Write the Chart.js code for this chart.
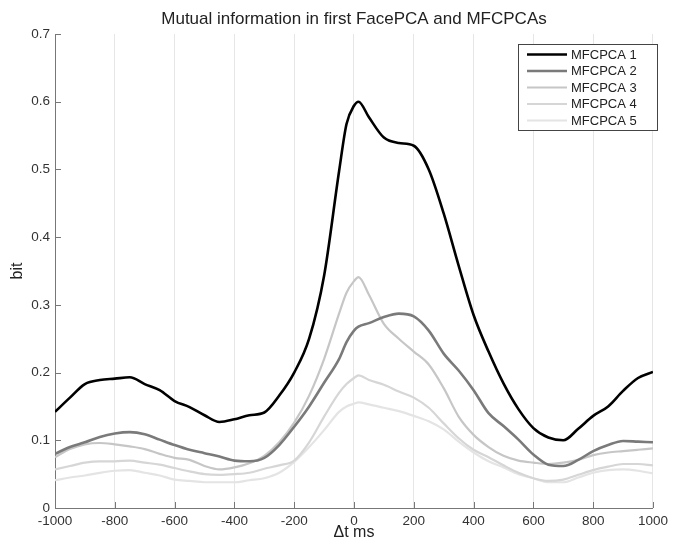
<!DOCTYPE html>
<html>
<head>
<meta charset="utf-8">
<script src="https://cdn.jsdelivr.net/npm/chart.js@4"></script>
<style>
  html, body { margin: 0; padding: 0; background: #fff; }
</style>
</head>
<body>
<canvas id="chart" width="673" height="542"></canvas>
<script>
// time lag (ms) and mutual information (bit)
const timeMs = [-1000, -950, -900, -850, -800, -750, -700, -650, -600, -550,
                -500, -450, -400, -350, -300, -250, -200, -150, -100, -50,
                -25, 0, 15, 50, 100, 150, 200, 250, 300, 350,
                400, 450, 500, 550, 600, 650, 700, 750, 800, 850,
                900, 950, 1000];

const mfcpca1 = [0.142, 0.163, 0.183, 0.189, 0.191, 0.193, 0.183, 0.174, 0.158, 0.149,
                 0.137, 0.127, 0.131, 0.137, 0.141, 0.166, 0.200, 0.250, 0.343, 0.497,
                 0.567, 0.594, 0.600, 0.577, 0.547, 0.539, 0.535, 0.500, 0.435, 0.358,
                 0.285, 0.231, 0.184, 0.146, 0.118, 0.104, 0.100, 0.117, 0.136, 0.150,
                 0.173, 0.192, 0.201];

const mfcpca2 = [0.080, 0.090, 0.097, 0.105, 0.110, 0.112, 0.109, 0.101, 0.093, 0.086,
                 0.081, 0.076, 0.070, 0.069, 0.074, 0.093, 0.120, 0.150, 0.185, 0.220,
                 0.245, 0.262, 0.268, 0.273, 0.282, 0.287, 0.283, 0.262, 0.228, 0.203,
                 0.174, 0.140, 0.121, 0.101, 0.079, 0.064, 0.062, 0.071, 0.084, 0.093,
                 0.099, 0.098, 0.097];

const mfcpca3 = [0.075, 0.087, 0.094, 0.096, 0.094, 0.091, 0.087, 0.080, 0.074, 0.071,
                 0.062, 0.057, 0.060, 0.066, 0.077, 0.097, 0.126, 0.166, 0.220, 0.287,
                 0.318, 0.335, 0.341, 0.315, 0.272, 0.250, 0.231, 0.212, 0.177, 0.135,
                 0.108, 0.090, 0.077, 0.070, 0.067, 0.065, 0.067, 0.071, 0.078, 0.082,
                 0.084, 0.086, 0.088];

const mfcpca4 = [0.057, 0.062, 0.067, 0.069, 0.069, 0.070, 0.067, 0.064, 0.059, 0.054,
                 0.050, 0.049, 0.050, 0.052, 0.058, 0.063, 0.070, 0.097, 0.135, 0.170,
                 0.183, 0.192, 0.196, 0.189, 0.182, 0.172, 0.163, 0.148, 0.125, 0.103,
                 0.086, 0.075, 0.063, 0.052, 0.044, 0.040, 0.042, 0.049, 0.056, 0.061,
                 0.065, 0.065, 0.063];

const mfcpca5 = [0.041, 0.045, 0.048, 0.052, 0.055, 0.056, 0.052, 0.048, 0.042, 0.040,
                 0.038, 0.038, 0.038, 0.041, 0.044, 0.052, 0.068, 0.090, 0.115, 0.142,
                 0.150, 0.154, 0.156, 0.153, 0.148, 0.143, 0.136, 0.128, 0.116, 0.098,
                 0.082, 0.069, 0.060, 0.050, 0.044, 0.038, 0.038, 0.045, 0.052, 0.056,
                 0.057, 0.055, 0.051];

const seriesNames = ['MFCPCA 1', 'MFCPCA 2', 'MFCPCA 3', 'MFCPCA 4', 'MFCPCA 5'];
const seriesValues = [mfcpca1, mfcpca2, mfcpca3, mfcpca4, mfcpca5];
const seriesColors = ['#000000', '#7a7a7a', '#c6c6c6', '#d6d6d6', '#e4e4e4'];
const seriesWidths = [2.6, 2.6, 2.2, 2.2, 2.2];

const chartTitle = 'Mutual information in first FacePCA and MFCPCAs';
const FONT = '"Liberation Sans", Arial, sans-serif';

// заголовок по центру области графика
const topTitle = {
    id: 'topTitle',
    afterDraw(chart) {
        const {ctx, chartArea} = chart;
        ctx.save();
        ctx.font = '17px ' + FONT;
        ctx.fillStyle = '#222';
        ctx.textAlign = 'center';
        ctx.textBaseline = 'middle';
        ctx.fillText(chartTitle, (chartArea.left + chartArea.right) / 2, 19);
        ctx.restore();
    }
};

// короткие засечки внутрь осей, как в MATLAB
const innerTicks = {
    id: 'innerTicks',
    afterDatasetsDraw(chart) {
        const {ctx, chartArea, scales: {x, y}} = chart;
        ctx.save();
        ctx.strokeStyle = '#777';
        ctx.lineWidth = 1;
        ctx.beginPath();
        x.ticks.forEach(t => {
            const px = Math.round(x.getPixelForValue(t.value)) + 0.5;
            ctx.moveTo(px, chartArea.bottom);
            ctx.lineTo(px, chartArea.bottom - 6);
        });
        y.ticks.forEach(t => {
            const py = Math.round(y.getPixelForValue(t.value)) + 0.5;
            ctx.moveTo(chartArea.left, py);
            ctx.lineTo(chartArea.left + 6, py);
        });
        ctx.stroke();
        ctx.restore();
    }
};

// легенда в рамке в правом верхнем углу
const boxLegend = {
    id: 'boxLegend',
    afterDraw(chart) {
        const {ctx} = chart;
        const left = 518, top = 44, width = 139, height = 86;
        ctx.save();
        ctx.fillStyle = '#fff';
        ctx.fillRect(left, top, width, height);
        ctx.strokeStyle = '#444';
        ctx.lineWidth = 1;
        ctx.strokeRect(left + 0.5, top + 0.5, width, height);
        ctx.font = '13px ' + FONT;
        ctx.textBaseline = 'middle';
        chart.data.datasets.forEach((ds, i) => {
            const yy = top + 10.5 + i * 16.5;
            ctx.strokeStyle = ds.borderColor;
            ctx.lineWidth = ds.borderWidth;
            ctx.beginPath();
            ctx.moveTo(left + 9, yy);
            ctx.lineTo(left + 49, yy);
            ctx.stroke();
            ctx.fillStyle = '#222';
            ctx.fillText(ds.label, left + 53, yy + 0.5);
        });
        ctx.restore();
    }
};

const datasets = seriesNames.map((name, i) => ({
    label: name,
    data: timeMs.map((t, k) => ({x: t, y: seriesValues[i][k]})),
    borderColor: seriesColors[i],
    borderWidth: seriesWidths[i],
    pointRadius: 0,
    cubicInterpolationMode: 'monotone',
    fill: false,
    order: i
}));

new Chart(document.getElementById('chart').getContext('2d'), {
    type: 'line',
    data: {datasets: datasets},
    options: {
        responsive: false,
        animation: false,
        layout: {padding: {top: 34, right: 16, left: 0, bottom: 0}},
        plugins: {
            legend: {display: false},
            title: {display: false},
            tooltip: {enabled: false}
        },
        scales: {
            x: {
                type: 'linear',
                min: -1000,
                max: 1000,
                afterFit: scale => { scale.height = 34; },
                ticks: {
                    stepSize: 200,
                    color: '#333',
                    padding: 5,
                    maxRotation: 0,
                    font: {family: FONT, size: 13.5},
                    callback: v => String(v)
                },
                grid: {color: '#e6e6e6', drawTicks: false},
                border: {display: true, color: '#777'},
                title: {
                    display: true,
                    text: 'Δt ms',
                    color: '#222',
                    padding: {top: 0, bottom: 0},
                    font: {family: FONT, size: 16}
                }
            },
            y: {
                min: 0,
                max: 0.7,
                afterFit: scale => { scale.width = 55; },
                ticks: {
                    stepSize: 0.1,
                    color: '#333',
                    padding: 5,
                    font: {family: FONT, size: 13.5},
                    callback: v => v === 0 ? '0' : v.toFixed(1)
                },
                grid: {color: 'transparent', drawTicks: false},
                border: {display: true, color: '#777'},
                title: {
                    display: true,
                    text: 'bit',
                    color: '#222',
                    padding: {top: 8, bottom: 0},
                    font: {family: FONT, size: 16}
                }
            }
        }
    },
    plugins: [innerTicks, topTitle, boxLegend]
});
</script>
</body>
</html>
